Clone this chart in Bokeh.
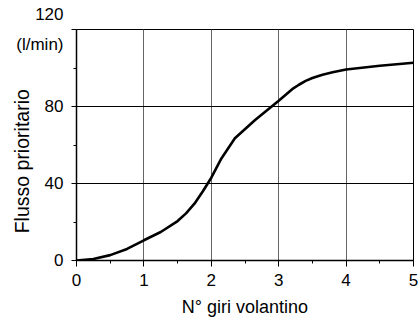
from bokeh.plotting import figure
from bokeh.models import FixedTicker
from bokeh.embed import file_html
from bokeh.resources import INLINE

# data
turns = [0, 0.25, 0.5, 0.75, 1.0, 1.25, 1.5, 1.625, 1.75, 1.875, 2.0, 2.15, 2.35,
         2.65, 3.0, 3.2, 3.3, 3.4, 3.5, 3.65, 3.8, 4.0, 4.5, 5.0]
flow = [0, 0.8, 2.8, 6, 10.5, 14.8, 20.5, 24.5, 29.5, 36, 43, 53, 63.5,
        73, 83, 89, 91.3, 93.3, 94.8, 96.5, 97.8, 99.2, 101.2, 102.7]

x_ticks = [0, 1, 2, 3, 4, 5]
x_minor = [0.5, 1.5, 2.5, 3.5, 4.5]
y_ticks = [0, 40, 80, 120]
y_minor = [20, 60, 100]
y_tick_labels = ["0", "40", "80", "120\n(l/min)"]
x_title = "N° giri volantino"
y_title = "Flusso prioritario"

FONT = "Liberation Sans"

p = figure(width=418, height=320, x_range=(0, 5), y_range=(0, 120),
           output_backend="svg", toolbar_location=None,
           min_border_left=76, min_border_right=5,
           min_border_top=29, min_border_bottom=60)
p.background_fill_color = "white"
p.border_fill_color = "white"
p.outline_line_color = "black"
p.outline_line_width = 1

p.xaxis.ticker = FixedTicker(ticks=x_ticks, minor_ticks=x_minor)
p.yaxis.ticker = FixedTicker(ticks=y_ticks, minor_ticks=y_minor)
p.yaxis.major_label_overrides = {v: t for v, t in zip(y_ticks, y_tick_labels)}

for ax in (p.xaxis[0], p.yaxis[0]):
    ax.axis_line_color = "black"
    ax.axis_line_width = 1.5
    ax.major_tick_line_color = "black"
    ax.minor_tick_line_color = "black"
    ax.major_tick_in = 0
    ax.minor_tick_in = 0
    ax.axis_label_text_font = FONT
    ax.axis_label_text_font_style = "normal"
    ax.axis_label_text_color = "black"
    ax.major_label_text_font = FONT
    ax.major_label_text_font_size = "17px"
    ax.major_label_text_color = "black"

p.xaxis.major_tick_out = 6
p.xaxis.minor_tick_out = 3
p.xaxis.major_label_standoff = 7
p.xaxis.axis_label = x_title
p.xaxis.axis_label_text_font_size = "18px"
p.xaxis.axis_label_standoff = 8

p.yaxis.major_tick_out = 5
p.yaxis.minor_tick_out = 3
p.yaxis.major_label_standoff = 8
p.yaxis.major_label_text_line_height = 1.55
p.yaxis.axis_label = y_title + "\u00a0" * 6
p.yaxis.axis_label_text_font_size = "19.5px"
p.yaxis.axis_label_standoff = -20

p.xgrid.grid_line_color = "#666666"
p.xgrid.grid_line_width = 1
p.ygrid.grid_line_color = "black"
p.ygrid.grid_line_width = 1

p.line(turns, flow, line_color="black", line_width=2.6)

open("out.html", "w").write(file_html(p, INLINE))
